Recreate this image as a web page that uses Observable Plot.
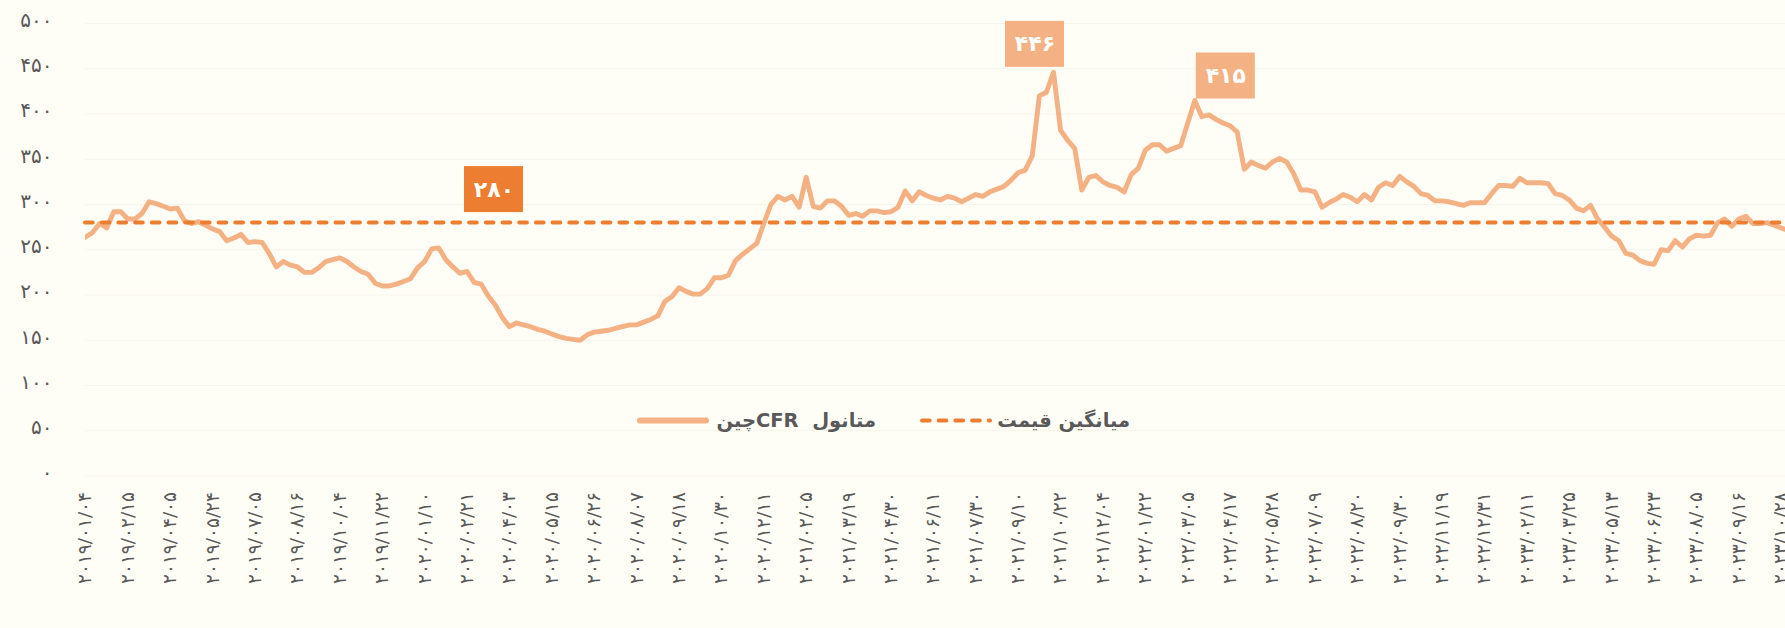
<!DOCTYPE html>
<html><head><meta charset="utf-8">
<script src="https://cdn.jsdelivr.net/npm/d3@7"></script>
<script src="https://cdn.jsdelivr.net/npm/@observablehq/plot@0.6"></script>
<style>
html,body{margin:0;padding:0;background:#FFFEF6;}
#chart{width:1785px;height:628px;overflow:hidden;}
</style></head><body><div id="chart"></div>
<script>
// Weekly methanol CFR China price (USD/t), one value per week
const prices = [
264,269,279,274,292,292,284,284,290,303,301,298,295,296,282,279,281,277,273,270,
260,263,267,258,259,258,246,231,237,233,231,225,225,230,237,239,241,237,231,226,
223,213,210,210,212,215,218,230,237,251,252,239,231,224,226,214,212,199,189,175,
165,169,167,165,162,160,157,154,152,151,150,156,159,160,161,163,165,167,167,170,
173,177,193,198,208,204,201,201,207,219,219,222,238,245,251,257,279,300,309,305,
309,297,330,298,296,304,304,298,288,290,287,293,293,291,292,297,315,304,314,310,
307,305,309,307,303,307,311,309,314,317,320,327,335,338,354,420,424,446,382,371,
362,316,330,332,325,321,319,314,333,340,360,366,366,359,362,365,390,415,397,399,
394,390,387,380,339,347,343,340,347,351,347,334,316,316,314,297,302,306,311,308,
303,311,305,319,324,321,331,325,320,312,310,304,304,303,301,299,302,302,302,312,
321,321,320,329,324,324,324,323,312,310,305,296,293,299,284,275,265,260,246,244,
238,235,234,250,249,260,253,262,266,265,266,280,284,276,284,287,279,279,280,277,
274,271
];
// category labels shown on every 6th week
const tickLabels = [
"۲۰۱۹/۰۱/۰۴","۲۰۱۹/۰۲/۱۵","۲۰۱۹/۰۴/۰۵","۲۰۱۹/۰۵/۲۴","۲۰۱۹/۰۷/۰۵","۲۰۱۹/۰۸/۱۶","۲۰۱۹/۱۰/۰۴","۲۰۱۹/۱۱/۲۲",
"۲۰۲۰/۰۱/۱۰","۲۰۲۰/۰۲/۲۱","۲۰۲۰/۰۴/۰۳","۲۰۲۰/۰۵/۱۵","۲۰۲۰/۰۶/۲۶","۲۰۲۰/۰۸/۰۷","۲۰۲۰/۰۹/۱۸","۲۰۲۰/۱۰/۳۰",
"۲۰۲۰/۱۲/۱۱","۲۰۲۱/۰۲/۰۵","۲۰۲۱/۰۳/۱۹","۲۰۲۱/۰۴/۳۰","۲۰۲۱/۰۶/۱۱","۲۰۲۱/۰۷/۳۰","۲۰۲۱/۰۹/۱۰","۲۰۲۱/۱۰/۲۲",
"۲۰۲۱/۱۲/۰۴","۲۰۲۲/۰۱/۲۲","۲۰۲۲/۰۳/۰۵","۲۰۲۲/۰۴/۱۷","۲۰۲۲/۰۵/۲۸","۲۰۲۲/۰۷/۰۹","۲۰۲۲/۰۸/۲۰","۲۰۲۲/۰۹/۳۰",
"۲۰۲۲/۱۱/۱۹","۲۰۲۲/۱۲/۳۱","۲۰۲۳/۰۲/۱۱","۲۰۲۳/۰۳/۲۵","۲۰۲۳/۰۵/۱۳","۲۰۲۳/۰۶/۲۳","۲۰۲۳/۰۸/۰۵","۲۰۲۳/۰۹/۱۶",
"۲۰۲۳/۱۰/۲۸"
];
const tickEvery = 6;
const yTicks = [0,50,100,150,200,250,300,350,400,450,500];
const averagePrice = 280;
const averageLabel = "۲۸۰";
const averageLabelWeek = 58;
const peakWeeks = [137, 157];
const peakLabels = ["۴۴۶", "۴۱۵"];
const legendLabels = ["متانول  CFRچین", "میانگین قیمت"];

const toFa = n => String(n).replace(/\d/g, d => "۰۱۲۳۴۵۶۷۸۹"[d]);
const data = prices.map((v, i) => ({i, v}));
const ticks = tickLabels.map((_, k) => k * tickEvery);
const peaks = peakWeeks.map((w, k) => ({i: w, v: prices[w], label: peakLabels[k]}));
const avgAnn = [{i: averageLabelWeek, v: averagePrice, label: averageLabel}];

const FONT = "'DejaVu Sans', sans-serif";
const LINE = "#F4B183", AVG = "#ED7D31", TXT = "#595959";

function box(arr, fill, dx, dy) {
  return [
    Plot.rect(arr, {x1: "i", x2: "i", y1: "v", y2: "v", fill,
      insetLeft: -29.5, insetRight: -29.5, insetTop: -23, insetBottom: -23, dx, dy}),
    Plot.text(arr, {x: "i", y: "v", text: "label", fill: "white", fontWeight: "bold",
      fontSize: 22, dx, dy, textAnchor: "middle", lineAnchor: "middle"})
  ];
}

const plot = Plot.plot({
  width: 1785, height: 628,
  marginLeft: 85, marginRight: 0, marginTop: 23, marginBottom: 152.5,
  style: {background: "#FFFEF6", fontFamily: FONT, color: TXT, overflow: "hidden"},
  x: {type: "linear", domain: [0, 240.6]},
  y: {domain: [0, 500]},
  marks: [
    Plot.ruleY(yTicks, {x1: 70, stroke: "#F6F5EA", strokeWidth: 1, x1: undefined}),
    Plot.axisY({ticks: yTicks, tickSize: 0, tickPadding: 33, tickFormat: toFa, fontSize: 20, dy: -3, label: null}),
    Plot.axisX({ticks, tickSize: 0, tickPadding: 16, tickRotate: -90, fontSize: 18.5,
      tickFormat: i => tickLabels[i / tickEvery], label: null}),
    Plot.lineY(data, {x: "i", y: "v", stroke: LINE, strokeWidth: 4.9, strokeLinejoin: "round", clip: true}),
    Plot.ruleY([averagePrice], {stroke: AVG, strokeWidth: 4, strokeDasharray: "7.7,9", strokeLinecap: "round"}),
    ...box([peaks[0]], LINE, -18.5, -28),
    ...box([peaks[1]], LINE, 31, -24.4),
    ...box(avgAnn, AVG, -1.3, -33)
  ]
});
document.getElementById("chart").appendChild(plot);

// legend inside the plot area
const svg = d3.select(plot);
const lg = svg.append("g").attr("font-family", FONT).attr("font-weight", "bold")
  .attr("font-size", 19.5).attr("fill", TXT);
lg.append("line").attr("x1", 640).attr("x2", 706).attr("y1", 420.5).attr("y2", 420.5)
  .attr("stroke", LINE).attr("stroke-width", 6).attr("stroke-linecap", "round");
lg.append("text").attr("x", 876).attr("y", 420).attr("direction", "rtl").attr("text-anchor", "start")
  .attr("dominant-baseline", "central").text(legendLabels[0]);
lg.append("line").attr("x1", 922).attr("x2", 990).attr("y1", 420.5).attr("y2", 420.5)
  .attr("stroke", AVG).attr("stroke-width", 4).attr("stroke-dasharray", "7.7,9").attr("stroke-linecap", "round");
lg.append("text").attr("x", 1130).attr("y", 420).attr("direction", "rtl").attr("text-anchor", "start")
  .attr("dominant-baseline", "central").text(legendLabels[1]);
</script></body></html>
